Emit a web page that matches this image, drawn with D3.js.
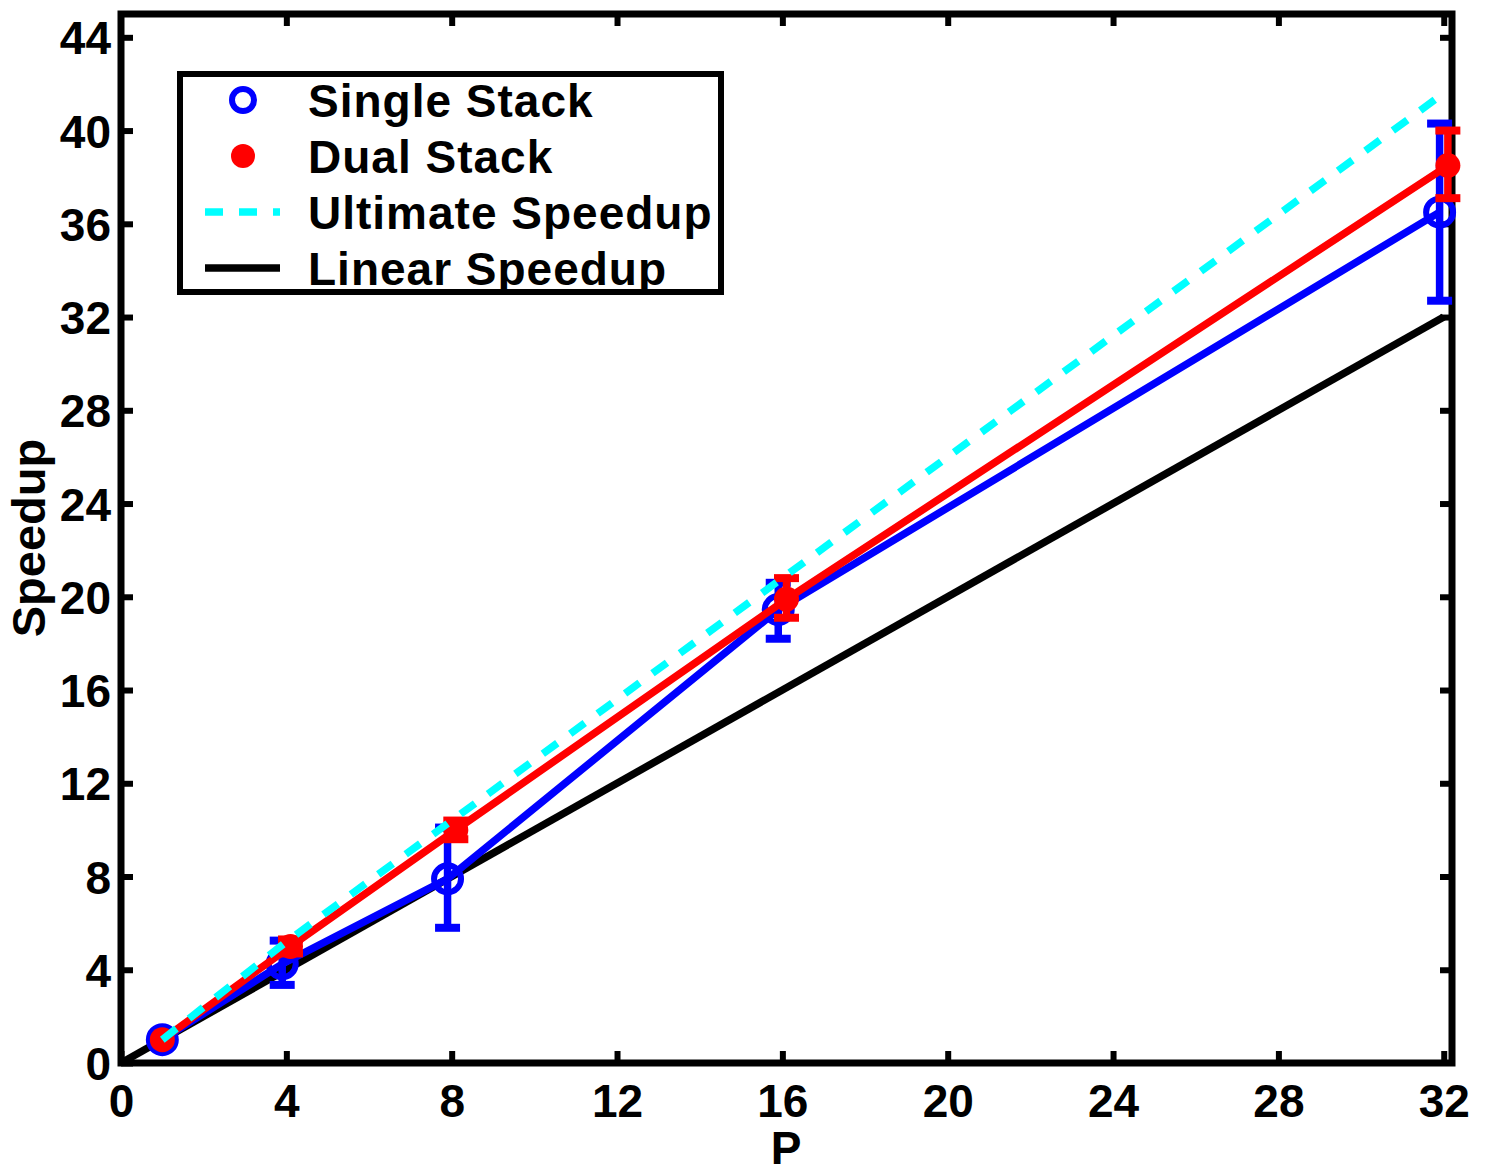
<!DOCTYPE html>
<html>
<head>
<meta charset="utf-8">
<script src="https://cdn.jsdelivr.net/npm/d3@7"></script>
<style>
  html, body { margin: 0; padding: 0; background: #fff; }
  svg { display: block; }
  text { font-family: "Liberation Sans", Arial, sans-serif; font-weight: bold; }
</style>
</head>
<body>
<svg id="chart" width="1491" height="1169"></svg>
<script>
// ---- data ----
const xTicks = [0, 4, 8, 12, 16, 20, 24, 28, 32];
const yTicks = [0, 4, 8, 12, 16, 20, 24, 28, 32, 36, 40, 44];

const singleP    = [1, 3.9, 7.9, 15.9, 31.9];
const singleY    = [1, 4.25, 7.9, 19.45, 36.5];
const singleLow  = [1, 3.35, 5.8, 18.2, 32.7];
const singleHigh = [1, 5.25, 10.1, 20.6, 40.3];

const dualP    = [1, 4.1, 8.1, 16.1, 32.1];
const dualY    = [1, 5.0, 10.0, 19.9, 38.5];
const dualLow  = [1, 4.7, 9.6, 19.1, 37.1];
const dualHigh = [1, 5.3, 10.4, 20.8, 40.0];

const ultimateP = [1, 4, 8, 16, 32];
const ultimateY = [1, 5.2, 10.4, 20.8, 41.6];

const linearP = [0, 32];
const linearY = [0, 32];

const legendLabels = ["Single Stack", "Dual Stack", "Ultimate Speedup", "Linear Speedup"];

// ---- layout ----
const svg = d3.select("#chart");
const L = 121, R = 1452, T = 14, B = 1063;
const x = d3.scaleLinear().domain([0, 32.2]).range([L, R]);
const y = d3.scaleLinear().domain([0, 45]).range([B, T]);

const FONT = 46;
const LW = 7.5;

// axes
function styleAxis(g) {
  g.select(".domain").remove();
  g.selectAll(".tick line").attr("stroke", "#000").attr("stroke-width", 6);
  g.selectAll(".tick text").attr("font-size", FONT).attr("fill", "#000")
    .attr("font-family", "Liberation Sans, Arial, sans-serif").attr("font-weight", "bold");
}
svg.append("g").attr("transform", `translate(0,${B})`)
  .call(d3.axisBottom(x).tickValues(xTicks).tickSize(-12).tickPadding(21).tickFormat(d3.format("d")))
  .call(styleAxis);
svg.append("g").attr("transform", `translate(0,${T})`)
  .call(d3.axisTop(x).tickValues(xTicks.filter(d => d > 0)).tickSize(-12).tickFormat(""))
  .call(styleAxis);
svg.append("g").attr("transform", `translate(${L},0)`)
  .call(d3.axisLeft(y).tickValues(yTicks).tickSize(-12).tickPadding(10).tickFormat(d3.format("d")))
  .call(styleAxis)
  .selectAll(".tick text").attr("dy", "0.36em");
svg.append("g").attr("transform", `translate(${R},0)`)
  .call(d3.axisRight(y).tickValues(yTicks.filter(d => d > 0)).tickSize(-12).tickFormat(""))
  .call(styleAxis);

// frame
svg.append("rect").attr("x", L).attr("y", T).attr("width", R - L).attr("height", B - T)
  .attr("fill", "none").attr("stroke", "#000").attr("stroke-width", 7);

// axis labels
svg.append("text").attr("x", 786).attr("y", 1164).attr("text-anchor", "middle")
  .attr("font-size", FONT).text("P");
svg.append("text").attr("transform", "translate(45,538) rotate(-90)").attr("text-anchor", "middle")
  .attr("font-size", FONT + 1).text("Speedup");

const line = d3.line().x(d => x(d[0])).y(d => y(d[1]));
const plot = svg.append("g");

// linear
plot.append("path").datum(linearP.map((p, i) => [p, linearY[i]]))
  .attr("d", line).attr("fill", "none").attr("stroke", "#000").attr("stroke-width", LW);

// error bars helper
function errorBars(P, lo, hi, color) {
  const g = plot.append("g");
  P.forEach((p, i) => {
    if (hi[i] - lo[i] < 0.01) return;
    const cx = x(p), capW = 12.5;
    g.append("line").attr("x1", cx).attr("x2", cx).attr("y1", y(lo[i])).attr("y2", y(hi[i]))
      .attr("stroke", color).attr("stroke-width", 7.5);
    [lo[i], hi[i]].forEach(v => {
      g.append("line").attr("x1", cx - capW).attr("x2", cx + capW).attr("y1", y(v)).attr("y2", y(v))
        .attr("stroke", color).attr("stroke-width", 8);
    });
  });
}

// single stack
plot.append("path").datum(singleP.map((p, i) => [p, singleY[i]]))
  .attr("d", line).attr("fill", "none").attr("stroke", "#0000ff").attr("stroke-width", LW);
errorBars(singleP, singleLow, singleHigh, "#0000ff");
plot.selectAll(".sm").data(singleP).enter().append("circle")
  .attr("cx", d => x(d)).attr("cy", (d, i) => y(singleY[i])).attr("r", 13.5)
  .attr("fill", "none").attr("stroke", "#0000ff").attr("stroke-width", 6);

// dual stack
plot.append("path").datum(dualP.map((p, i) => [p, dualY[i]]))
  .attr("d", line).attr("fill", "none").attr("stroke", "#ff0000").attr("stroke-width", LW);
errorBars(dualP, dualLow, dualHigh, "#ff0000");
plot.selectAll(".dm").data(dualP).enter().append("circle")
  .attr("cx", d => x(d)).attr("cy", (d, i) => y(dualY[i])).attr("r", 12.5)
  .attr("fill", "#ff0000");

// ultimate
plot.append("path").datum(ultimateP.map((p, i) => [p, ultimateY[i]]))
  .attr("d", line).attr("fill", "none").attr("stroke", "#00ffff").attr("stroke-width", LW)
  .attr("stroke-dasharray", "18,16");

// legend
const lg = svg.append("g");
lg.append("rect").attr("x", 180).attr("y", 74).attr("width", 541).attr("height", 218)
  .attr("fill", "#fff").attr("stroke", "#000").attr("stroke-width", 6);
const rowY = [100, 156, 212, 268];
const sx1 = 205, sx2 = 280, mx = 243, tx = 308;
lg.append("circle").attr("cx", mx).attr("cy", rowY[0]).attr("r", 11).attr("fill", "none")
  .attr("stroke", "#0000ff").attr("stroke-width", 6);
lg.append("circle").attr("cx", mx).attr("cy", rowY[1]).attr("r", 12).attr("fill", "#ff0000");
lg.append("line").attr("x1", sx1).attr("x2", sx2).attr("y1", rowY[2]).attr("y2", rowY[2])
  .attr("stroke", "#00ffff").attr("stroke-width", LW).attr("stroke-dasharray", "18,16");
lg.append("line").attr("x1", sx1).attr("x2", sx2).attr("y1", rowY[3]).attr("y2", rowY[3])
  .attr("stroke", "#000").attr("stroke-width", LW);
lg.selectAll(".lt").data(legendLabels).enter().append("text")
  .attr("x", tx).attr("y", (d, i) => rowY[i]).attr("dy", "0.36em")
  .attr("font-size", 46).attr("letter-spacing", "1px").text(d => d);
</script>
</body>
</html>
